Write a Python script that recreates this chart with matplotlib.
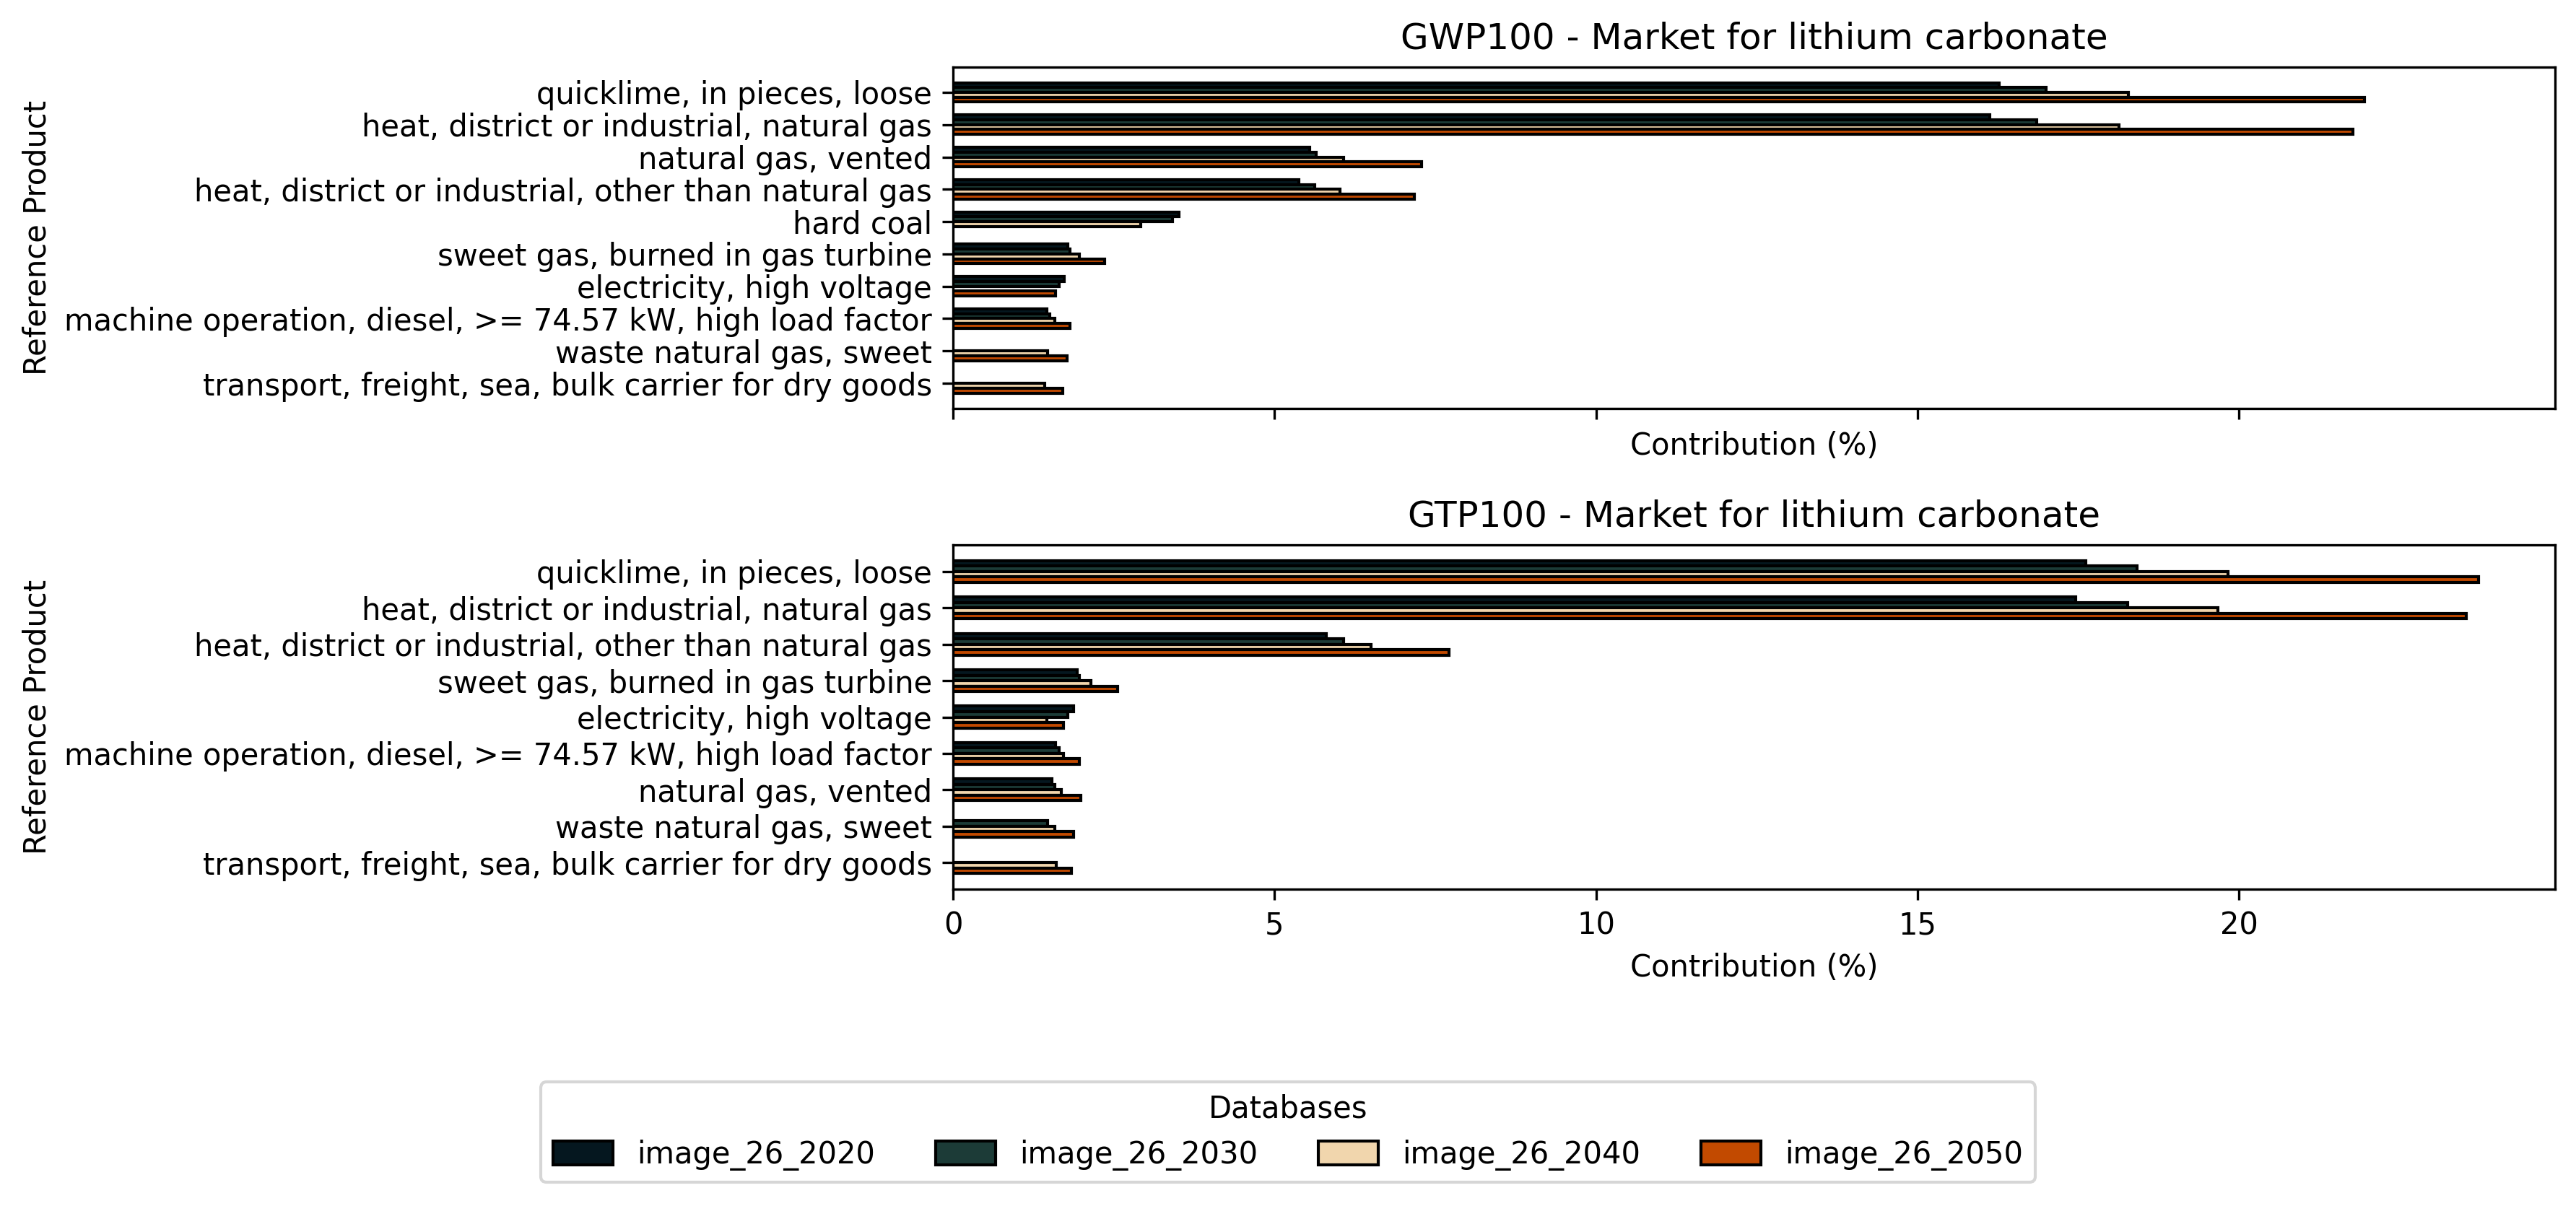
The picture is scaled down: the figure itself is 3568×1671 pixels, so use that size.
import matplotlib
matplotlib.use('Agg')
import matplotlib.pyplot as plt
import numpy as np

databases = ['image_26_2020', 'image_26_2030', 'image_26_2040', 'image_26_2050']
colors = ['#05171f', '#1c3b37', '#f1d6ad', '#c24a00']

# GWP100 panel
gwp_products = ['quicklime, in pieces, loose',
                'heat, district or industrial, natural gas',
                'natural gas, vented',
                'heat, district or industrial, other than natural gas',
                'hard coal',
                'sweet gas, burned in gas turbine',
                'electricity, high voltage',
                'machine operation, diesel, >= 74.57 kW, high load factor',
                'waste natural gas, sweet',
                'transport, freight, sea, bulk carrier for dry goods']
gwp_2020 = [16.27, 16.12, 5.55, 5.38, 3.51, 1.78, 1.73, 1.46, np.nan, np.nan]
gwp_2030 = [17.00, 16.85, 5.65, 5.62, 3.41, 1.82, 1.65, 1.51, np.nan, np.nan]
gwp_2040 = [18.28, 18.13, 6.07, 6.02, 2.92, 1.97, np.nan, 1.58, 1.47, 1.43]
gwp_2050 = [21.95, 21.77, 7.29, 7.17, np.nan, 2.36, 1.59, 1.82, 1.77, 1.71]

# GTP100 panel
gtp_products = ['quicklime, in pieces, loose',
                'heat, district or industrial, natural gas',
                'heat, district or industrial, other than natural gas',
                'sweet gas, burned in gas turbine',
                'electricity, high voltage',
                'machine operation, diesel, >= 74.57 kW, high load factor',
                'natural gas, vented',
                'waste natural gas, sweet',
                'transport, freight, sea, bulk carrier for dry goods']
gtp_2020 = [17.62, 17.46, 5.81, 1.93, 1.87, 1.59, 1.54, np.nan, np.nan]
gtp_2030 = [18.42, 18.27, 6.08, 1.97, 1.79, 1.65, 1.58, 1.47, np.nan]
gtp_2040 = [19.83, 19.67, 6.50, 2.14, 1.46, 1.72, 1.68, 1.58, 1.61]
gtp_2050 = [23.73, 23.53, 7.71, 2.56, 1.72, 1.96, 1.99, 1.88, 1.84]

panels = [('GWP100 - Market for lithium carbonate', gwp_products,
           [gwp_2020, gwp_2030, gwp_2040, gwp_2050]),
          ('GTP100 - Market for lithium carbonate', gtp_products,
           [gtp_2020, gtp_2030, gtp_2040, gtp_2050])]

plt.rcParams['font.size'] = 10

W, H = 3568, 1671
fig = plt.figure(figsize=(W / 300, H / 300), dpi=300)
ax_top = fig.add_axes([1320 / W, 1 - 566 / H, (3539 - 1320) / W, (566 - 93) / H])
ax_bot = fig.add_axes([1320 / W, 1 - 1232 / H, (3539 - 1320) / W, (1232 - 755) / H],
                      sharex=ax_top)

bar_h = 0.15
for ax, (title, products, series) in zip([ax_top, ax_bot], panels):
    y = np.arange(len(products))
    for j, (vals, db, c) in enumerate(zip(series, databases, colors)):
        ax.barh(y + (j - 1.5) * bar_h, vals, height=bar_h, color=c,
                edgecolor='black', linewidth=1.0, label=db)
    ax.set_yticks(y, labels=products)
    ax.invert_yaxis()
    ax.set_title(title)
    ax.set_xlabel('Contribution (%)')
    ax.set_ylabel('Reference Product')

ax_top.tick_params(axis='x', labelbottom=False)

handles, labels = ax_bot.get_legend_handles_labels()
fig.legend(handles, labels, title='Databases', ncol=4, loc='lower center',
           bbox_to_anchor=(0.5, 0.007), handleheight=0.85)

fig.savefig('out.png', dpi=300)
